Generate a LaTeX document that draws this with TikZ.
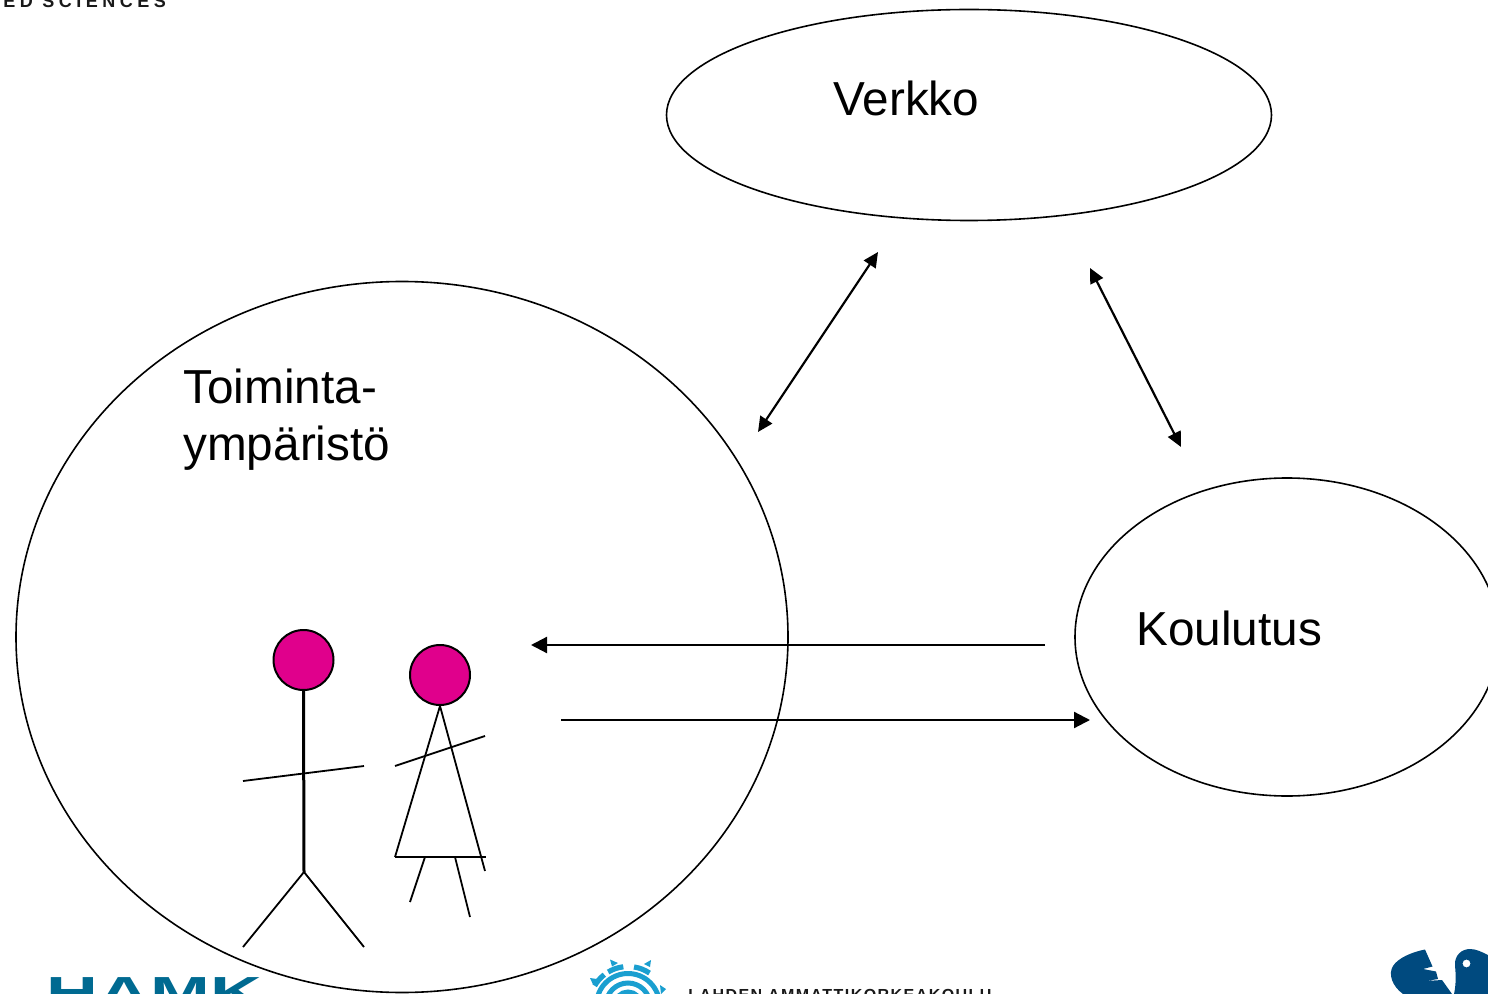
\documentclass[tikz,border=0pt]{standalone}
\usepackage{fontspec}
\setmainfont{Liberation Sans}
\newfontfamily\logoscience[LetterSpace=25]{Liberation Sans Bold}
\newfontfamily\logolahti[LetterSpace=9]{Liberation Sans Bold}
\usetikzlibrary{shapes.geometric,arrows.meta}
\definecolor{headpink}{HTML}{E0008C}
\definecolor{hamkblue}{HTML}{006A91}
\definecolor{sunblue}{HTML}{1A9FD0}
\definecolor{fishblue}{HTML}{004A7F}
\tikzset{
  bubble/.style={draw=black,line width=0.8pt,ellipse,inner sep=0pt,fill=none},
  label text/.style={font=\fontsize{23.85}{28}\selectfont,anchor=base west,inner sep=0pt,text=black},
  biarrow/.style={line width=1.1pt,{Triangle[length=7.5pt,width=7pt]}-{Triangle[length=7.5pt,width=7pt]}},
  onearrow/.style={line width=1.1pt,-{Triangle[length=8pt,width=8pt]}},
  head/.style={circle,draw=black,line width=1pt,fill=headpink,inner sep=0pt,minimum size=30pt},
  limb/.style={line width=0.9pt,draw=black},
  trunk/.style={line width=1.5pt,draw=black},
  sunring/.style={draw=sunblue,line width=2.5pt},
  sunband/.style={draw=sunblue,line width=2.6pt},
}
\begin{document}
\begin{tikzpicture}[x=0.5pt,y=-0.5pt]
\useasboundingbox (0,0) rectangle (1488,994);
\begin{scope}
\clip (0,0) rectangle (1488,994);
\fill[white] (0,0) rectangle (1488,994);
% cropped logo text
\node[anchor=base west,inner sep=0pt,font=\logoscience\fontsize{9}{10}\selectfont,text=black!90] (sciences) at (3,8) {ED SCIENCES};
\node[anchor=base west,inner sep=0pt,xscale=1.65,font=\fontsize{21.75}{24}\bfseries\selectfont,text=hamkblue] (hamk) at (46,1007) {HAMK};
\node[anchor=base west,inner sep=0pt,font=\logolahti\fontsize{8}{10}\selectfont,text=black!90] (lahti) at (688,1000) {LAHDEN AMMATTIKORKEAKOULU};
% sun logo
\coordinate (sunc) at (628,1005);
\draw[sunring] (sunc) circle[radius=31.5];
\draw[sunring] (sunc) circle[radius=22];
\draw[sunring] (sunc) circle[radius=13];
\draw[sunband] ([shift={(sunc)}] -97:38.5) arc[start angle=-97,end angle=-121,radius=38.5];
\draw[sunband] ([shift={(sunc)}] -81:38.5) arc[start angle=-81,end angle=-56,radius=38.5];
\draw[sunband] ([shift={(sunc)}] -128:38.5) arc[start angle=-128,end angle=-150,radius=38.5];
\fill[sunblue] (610,959.5) -- (618,963) -- (612,966.5) -- cycle;
\fill[sunblue] (651,960) -- (650,967) -- (644,964) -- cycle;
\fill[sunblue] (590,978) -- (597,979) -- (593,984.5) -- cycle;
\fill[sunblue] (666,989) -- (661,994) -- (660,985) -- cycle;
% fish logo
\fill[fishblue] (1425,949.5) -- (1432.5,966.5) -- (1423,969) -- (1436,971.5) -- (1438,979) -- (1426,981) -- (1442,980) -- (1452,994) -- (1403,994) .. controls (1392,986) and (1388,974) .. (1393,966) .. controls (1398,958) and (1412,952) .. (1425,949.5) -- cycle;
\fill[fishblue,even odd rule] (1454,994) .. controls (1456,985) and (1456,975) .. (1455,966) .. controls (1454,955) and (1462,949) .. (1470,949) .. controls (1476,949) and (1482,952) .. (1488,955) -- (1488,994) -- cycle (1466.5,963.5) circle[radius=4];
% ellipses
\node[bubble,minimum width=302.5pt,minimum height=105.5pt] (verkko) at (969,115) {};
\node[bubble,minimum width=386pt,minimum height=355.5pt] (toiminta) at (402,637) {};
\node[bubble,minimum width=212pt,minimum height=159pt] (koulutus) at (1287,637) {};
% labels
\node[label text] (verkkolabel) at (833,115.5) {Verkko};
\node[label text] (koulutuslabel) at (1136,645) {Koulutus};
\node[label text] (toimintalabel) at (183,404) {Toiminta-};
\node[label text] (ymparistolabel) at (183,460) {ympäristö};
% arrows
\coordinate (a1) at (878,252); \coordinate (a2) at (758,432);
\coordinate (b1) at (1090,268); \coordinate (b2) at (1181,447);
\coordinate (c1) at (1045,645); \coordinate (c2) at (531,645);
\coordinate (d1) at (561,720); \coordinate (d2) at (1090,720);
\draw[biarrow] (a1) -- (a2);
\draw[biarrow] (b1) -- (b2);
\draw[onearrow] (c1) -- (c2);
\draw[onearrow] (d1) -- (d2);
% man
\node[head] (manhead) at (303.5,660) {};
\coordinate (hip) at (304,872);
\coordinate (manfootl) at (243,947); \coordinate (manfootr) at (364,947);
\coordinate (manarml) at (243,781); \coordinate (manarmr) at (364,766);
\draw[trunk] (manhead.south) -- (hip);
\draw[limb] (manarml) -- (manarmr);
\draw[limb] (manfootl) -- (hip) -- (manfootr);
% woman
\node[head] (womanhead) at (440,675) {};
\coordinate (skirtl) at (395,857); \coordinate (skirtr) at (486,857);
\coordinate (sideend) at (485,871);
\coordinate (womanarml) at (395,766); \coordinate (womanarmr) at (485,736);
\coordinate (legltop) at (425,857); \coordinate (leglend) at (410,902);
\coordinate (legrtop) at (455,857); \coordinate (legrend) at (470,917);
\draw[limb] (womanhead.south) -- (skirtl);
\draw[limb] (womanhead.south) -- (sideend);
\draw[line width=1.1pt] (skirtl) -- (skirtr);
\draw[limb] (womanarml) -- (womanarmr);
\draw[limb] (legltop) -- (leglend);
\draw[limb] (legrtop) -- (legrend);
\end{scope}
\end{tikzpicture}
\end{document}
